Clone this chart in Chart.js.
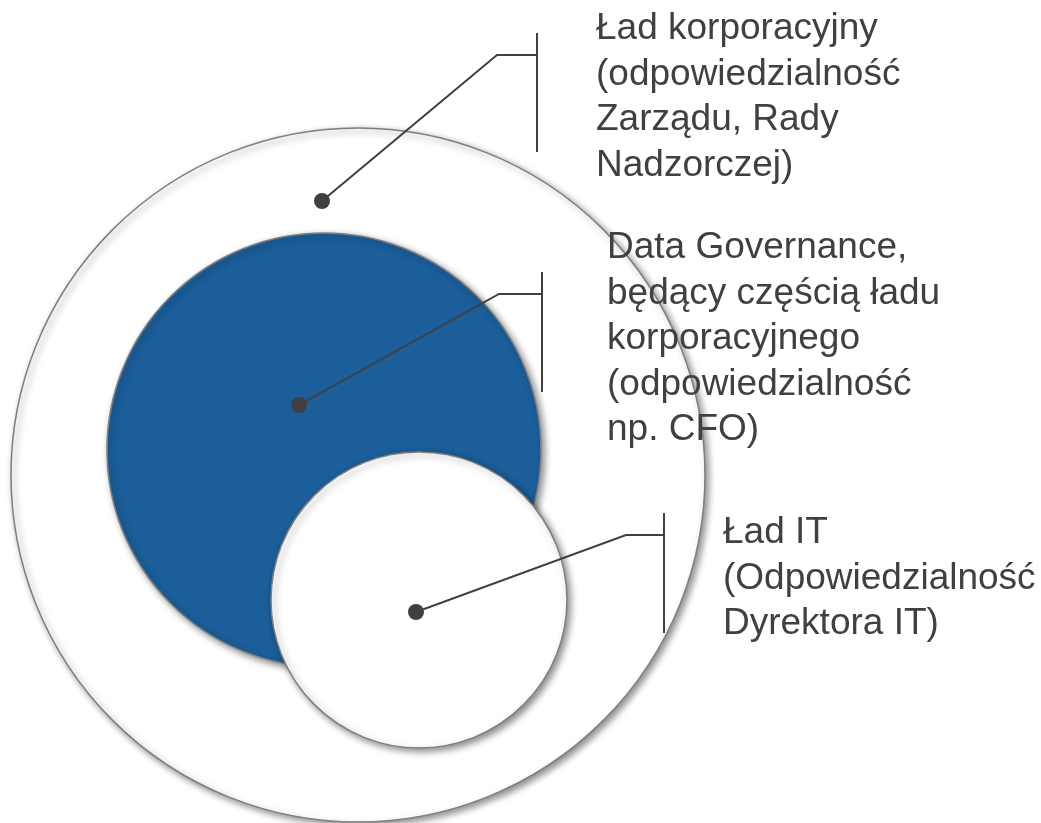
<!DOCTYPE html>
<html><head><meta charset="utf-8">
<script src="https://cdn.jsdelivr.net/npm/chart.js@4/dist/chart.umd.min.js"></script>
<style>html,body{margin:0;padding:0;background:#fff;overflow:hidden}</style>
</head><body>
<canvas id="c" width="1041" height="823"></canvas>
<script>
// ---- diagram data (units of the 1041 x 823 frame) ----
const circleNames = ['Ład korporacyjny', 'Data Governance', 'Ład IT'];
const circleX = [358, 324, 419];
const circleY = [475, 450, 600];
const circleR = [347, 217, 148];
const circleFill = ['#ffffff', '#1b5e9a', '#ffffff'];

const dotX = [322, 299, 416];
const dotY = [201, 405, 612];
const elbowX = [497, 499, 626];
const elbowY = [55, 294, 535];
const bracketX = [537, 542, 664];
const bracketTop = [33, 272, 513];
const bracketBottom = [152, 392, 633];

const labelX = [596, 607, 723];
const labelBaseline = [39, 258, 543];
const labelLines = [
  ['Ład korporacyjny', '(odpowiedzialność', 'Zarządu, Rady', 'Nadzorczej)'],
  ['Data Governance,', 'będący częścią ładu', 'korporacyjnego', '(odpowiedzialność', 'np. CFO)'],
  ['Ład IT', '(Odpowiedzialność', 'Dyrektora IT)']
];
const LINE_H = 45.6;
const TEXT_COLOR = '#404040';

// ---- datasets ----
const datasets = [];
datasets.push({
  label: 'circles',
  shadow: true,
  order: 10,
  data: circleX.map((x, i) => ({ x: x, y: circleY[i], r: circleR[i] })),
  pointRadius: (ctx) => {
    const s = ctx.chart.scales.x;
    const raw = ctx.raw;
    if (!raw || !s) return 0;
    return Math.abs(s.getPixelForValue(raw.x + raw.r) - s.getPixelForValue(raw.x));
  },
  pointBackgroundColor: circleFill,
  pointBorderColor: '#7f7f7f',
  pointBorderWidth: 1.5,
  showLine: false,
  clip: false
});
for (let i = 0; i < dotX.length; i++) {
  datasets.push({
    label: 'leader' + i,
    order: 5,
    data: [{ x: dotX[i], y: dotY[i] }, { x: elbowX[i], y: elbowY[i] }, { x: bracketX[i], y: elbowY[i] }],
    showLine: true,
    borderColor: TEXT_COLOR,
    borderWidth: 2,
    pointRadius: 0,
    tension: 0,
    clip: false
  });
  datasets.push({
    label: 'bracket' + i,
    order: 5,
    data: [{ x: bracketX[i], y: bracketTop[i] }, { x: bracketX[i], y: bracketBottom[i] }],
    showLine: true,
    borderColor: TEXT_COLOR,
    borderWidth: 2,
    pointRadius: 0,
    clip: false
  });
}
datasets.push({
  label: 'dots',
  order: 1,
  data: dotX.map((x, i) => ({ x: x, y: dotY[i] })),
  pointRadius: 8,
  pointBackgroundColor: '#404040',
  pointBorderWidth: 0,
  showLine: false,
  clip: false
});

const shadowPlugin = {
  id: 'shadow',
  beforeDatasetDraw(chart, args) {
    if (chart.data.datasets[args.index].shadow) {
      const c = chart.ctx;
      c.save();
      c.shadowColor = 'rgba(0,0,0,0.45)';
      c.shadowBlur = 7;
      c.shadowOffsetX = 3;
      c.shadowOffsetY = 3;
    }
  },
  afterDatasetDraw(chart, args) {
    if (chart.data.datasets[args.index].shadow) chart.ctx.restore();
  }
};

const labelPlugin = {
  id: 'labels',
  afterDatasetsDraw(chart) {
    const c = chart.ctx, sx = chart.scales.x, sy = chart.scales.y;
    c.save();
    c.font = '37px "Liberation Sans", Arial, sans-serif';
    c.fillStyle = TEXT_COLOR;
    c.textAlign = 'left';
    c.textBaseline = 'alphabetic';
    labelLines.forEach((lines, i) => {
      lines.forEach((t, j) => {
        c.fillText(t, sx.getPixelForValue(labelX[i]), sy.getPixelForValue(labelBaseline[i] + j * LINE_H));
      });
    });
    c.restore();
  }
};

new Chart(document.getElementById('c'), {
  type: 'scatter',
  data: { datasets: datasets },
  options: {
    responsive: false,
    devicePixelRatio: 1,
    animation: false,
    events: [],
    layout: { padding: 0, autoPadding: false },
    plugins: { legend: { display: false }, tooltip: { enabled: false } },
    scales: {
      x: { type: 'linear', min: 0, max: 1041, display: false },
      y: { type: 'linear', min: 0, max: 823, reverse: true, display: false }
    }
  },
  plugins: [shadowPlugin, labelPlugin]
});
</script>
</body></html>
